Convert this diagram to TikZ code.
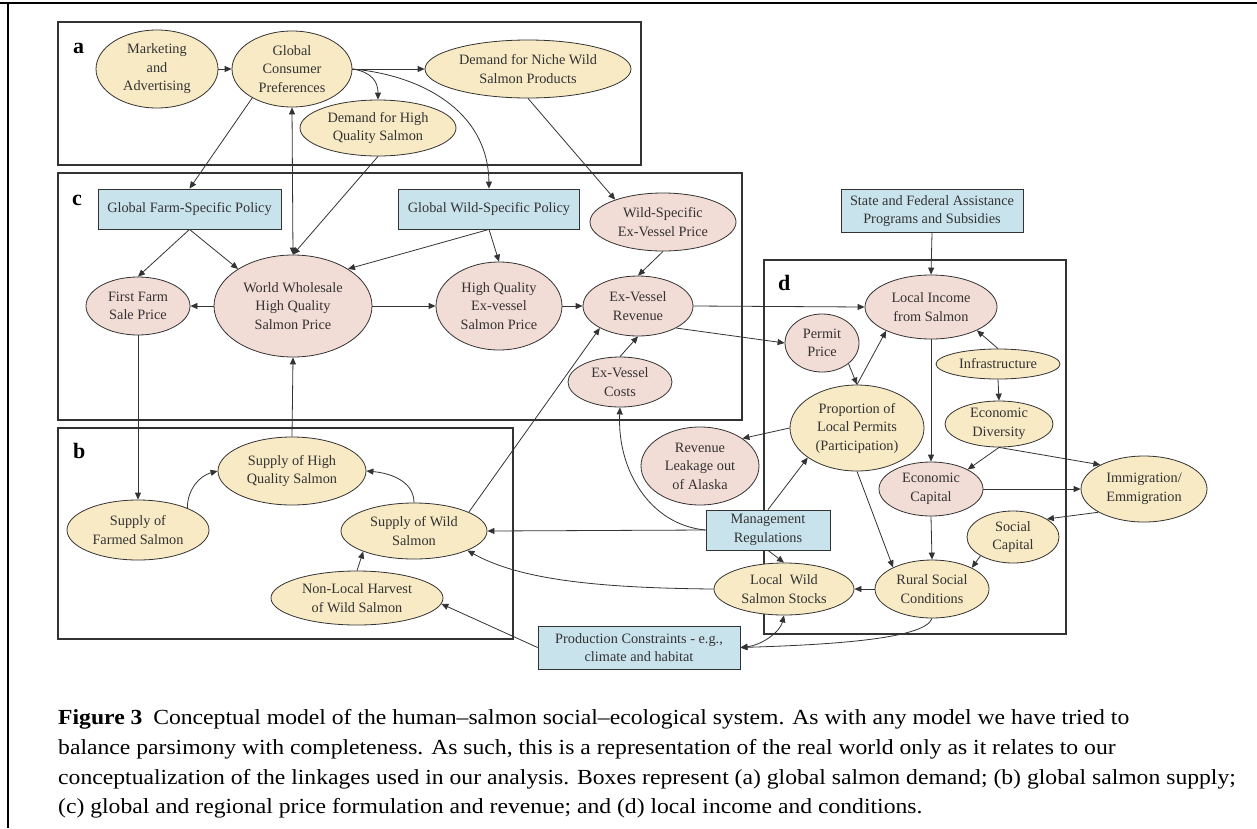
\documentclass[tikz,border=0pt]{standalone}
\usepackage{fontspec}
\setmainfont{Liberation Serif}
\newfontfamily\capfont[FakeStretch=1.10, Ligatures=TeX]{Liberation Serif}
\usetikzlibrary{shapes.geometric,arrows.meta}
\definecolor{beige}{HTML}{F8EAC4}
\definecolor{pinkf}{HTML}{F2DCD6}
\definecolor{bluef}{HTML}{C9E3EC}
\definecolor{ink}{HTML}{333333}
\begin{document}
\begin{tikzpicture}[x=1pt,y=-1pt,
  el/.style={ellipse, draw=ink, line width=0.8pt, inner sep=0pt, align=center,
    font=\fontsize{14.3}{18.5}\selectfont, text=ink},
  nb/.style={el, fill=beige},
  np/.style={el, fill=pinkf},
  bx/.style={rectangle, draw=ink, line width=0.8pt, fill=bluef, inner sep=0pt, align=center,
    font=\fontsize{14.3}{18.5}\selectfont, text=ink},
  arr/.style={draw=ink, line width=0.8pt, -{Triangle[length=7pt,width=6pt]}},
  arrtwo/.style={draw=ink, line width=0.8pt, {Triangle[length=7pt,width=6pt]}-{Triangle[length=7pt,width=6pt]}},
  panel/.style={draw=ink, line width=2.5pt},
  plabel/.style={anchor=base west, font=\fontsize{22}{22}\selectfont\bfseries, inner sep=0pt},
  captext/.style={anchor=base west, inner sep=0pt, font=\capfont\fontsize{21.5}{29}\selectfont}
]
\useasboundingbox (0,0) rectangle (1257,828);
\fill[white] (0,0) rectangle (1257,828);
% outer frame
\draw[line width=2pt, black] (0,3) -- (1257,3);
\draw[line width=2pt, black] (8,3) -- (8,828);
% panels
\draw[panel] (58,22) rectangle (641,165);
\draw[panel] (58,173) rectangle (742,420);
\draw[panel] (58,428) rectangle (513,639);
\draw[panel] (764,260) rectangle (1066,634);
\node[plabel] (la) at (73,53) {a};
\node[plabel] (lc) at (72,205) {c};
\node[plabel] (lb) at (73,458) {b};
\node[plabel] (ld) at (778,290) {d};
% group a
\node[nb, minimum width=122pt, minimum height=78pt] (mkt) at (157,69) {Marketing\\and\\Advertising};
\node[nb, minimum width=120pt, minimum height=76pt] (gcp) at (292,69) {Global\\Consumer\\Preferences};
\node[nb, minimum width=156pt, minimum height=56pt] (dhq) at (378,128) {Demand for High\\Quality Salmon};
\node[nb, minimum width=206pt, minimum height=58pt] (niche) at (528,69) {Demand for Niche Wild\\Salmon Products};
% group c
\node[bx, minimum width=183pt, minimum height=40pt] (fsp) at (189.5,209) {Global Farm-Specific Policy};
\node[bx, minimum width=181pt, minimum height=40pt] (wsp) at (489,209) {Global Wild-Specific Policy};
\node[np, minimum width=146pt, minimum height=58pt] (wsep) at (663,222) {Wild-Specific\\Ex-Vessel Price};
\node[np, minimum width=104pt, minimum height=58pt] (ffsp) at (138,306) {First Farm\\Sale Price};
\node[np, minimum width=158pt, minimum height=102pt] (ww) at (293,306) {World Wholesale\\High Quality\\Salmon Price};
\node[np, minimum width=126pt, minimum height=88pt] (hqex) at (499,306) {High Quality\\Ex-vessel\\Salmon Price};
\node[np, minimum width=110pt, minimum height=60pt] (rev) at (638,306) {Ex-Vessel\\Revenue};
\node[np, minimum width=104pt, minimum height=50pt] (cost) at (620,382) {Ex-Vessel\\Costs};
% group d
\node[bx, minimum width=182pt, minimum height=43pt] (sfa) at (932,211) {State and Federal Assistance\\Programs and Subsidies};
\node[np, minimum width=132pt, minimum height=64pt] (lis) at (931,307) {Local Income\\from Salmon};
\node[np, minimum width=74pt, minimum height=58pt] (pp) at (822,343) {Permit\\Price};
\node[nb, minimum width=124pt, minimum height=30pt] (inf) at (998,364) {Infrastructure};
\node[nb, minimum width=108pt, minimum height=46pt] (ed) at (999,424) {Economic\\Diversity};
\node[nb, minimum width=134pt, minimum height=86pt] (prop) at (857,428) {Proportion of\\Local Permits\\(Participation)};
\node[np, minimum width=118pt, minimum height=78pt] (leak) at (700,466) {Revenue\\Leakage out\\of Alaska};
\node[np, minimum width=104pt, minimum height=54pt] (ec) at (931,489) {Economic\\Capital};
\node[nb, minimum width=126pt, minimum height=66pt] (imm) at (1144,489) {Immigration/\\Emmigration};
\node[nb, minimum width=92pt, minimum height=52pt] (sc) at (1013,537) {Social\\Capital};
\node[nb, minimum width=114pt, minimum height=58pt] (rsc) at (932,589) {Rural Social\\Conditions};
\node[nb, minimum width=140pt, minimum height=52pt] (lwss) at (784,589) {Local\ \ Wild\\Salmon Stocks};
\node[bx, minimum width=124pt, minimum height=40pt] (mr) at (768,530) {Management\\Regulations};
\node[bx, minimum width=202pt, minimum height=43pt] (pc) at (639,647.5) {Production Constraints - e.g.,\\climate and habitat};
% group b
\node[nb, minimum width=148pt, minimum height=68pt] (shq) at (292,471) {Supply of High\\Quality Salmon};
\node[nb, minimum width=142pt, minimum height=60pt] (sf) at (138,530) {Supply of\\Farmed Salmon};
\node[nb, minimum width=146pt, minimum height=56pt] (sw) at (414,531) {Supply of Wild\\Salmon};
\node[nb, minimum width=172pt, minimum height=54pt] (nlh) at (357,598) {Non-Local Harvest\\of Wild Salmon};
% edges
\draw[arr] (mkt) -- (gcp);
\draw[arr] (gcp) -- (niche);
\draw[arr] (gcp.east) .. controls (372,72) and (378,82) .. (dhq.north);
\draw[arr] (gcp.east) .. controls (420,75) and (488,110) .. (wsp.north);
\draw[arr] (gcp.216) -- (fsp.north);
\draw[arrtwo] (gcp.south) -- (ww.north);
\draw[arr] (dhq.south) -- (ww.north);
\draw[arr] (niche.south) -- (wsep.155);
\draw[arr] (fsp.south) -- (ffsp.north);
\draw[arr] (fsp.south) -- (ww.146);
\draw[arr] (wsp.south) -- (ww.34);
\draw[arr] (wsp.south) -- (hqex.north);
\draw[arr] (ww) -- (ffsp);
\draw[arr] (ww) -- (hqex);
\draw[arr] (hqex) -- (rev);
\draw[arr] (wsep.south) -- (rev.north);
\draw[arr] (cost.north) -- (rev.south);
\draw[arr] (sw.19) -- (rev.210);
\draw[arr] (rev.east) -- (lis.west);
\draw[arr] (rev.-30) -- (pp.west);
\draw[arr] (ffsp.south) -- (sf.north);
\draw[arr] (sf.24) to[out=90,in=195] (shq.west);
\draw[arr] (sw.north) to[out=90,in=-5] (shq.east);
\draw[arr] (shq.north) -- (ww.south);
\draw[arr] (nlh.north) -- (sw.202);
\draw[arr] (mr.west) -- (sw.east);
\draw[arr] (mr.west) .. controls (650,525) and (617,470) .. (cost.south);
\draw[arr] (mr.north) -- (prop.211);
\draw[arr] (mr.south) -- (lwss.north);
\draw[arr] (lwss.west) .. controls (600,588) and (520,580) .. (sw.-20);
\draw[arr] (pc.west) -- (nlh.-4);
\draw[arr] (rsc.south) .. controls (925,640) and (820,645) .. (pc.east);
\draw[arrtwo] (pc.east) .. controls (762,645) and (780,632) .. (lwss.south);
\draw[arr] (rsc.west) -- (lwss.east);
\draw[arr] (prop.south) -- (rsc.151);
\draw[arr] (ec.south) -- (rsc.north);
\draw[arr] (sc.210) -- (rsc.28);
\draw[arr] (imm.207) -- (sc.28);
\draw[arr] (ec.east) -- (imm.west);
\draw[arr] (ed.south) -- (imm.151);
\draw[arr] (ed.south) -- (ec.28);
\draw[arr] (lis.south) -- (ec.north);
\draw[arr] (inf.north) -- (lis.-27);
\draw[arr] (inf.south) -- (ed.north);
\draw[arr] (pp.-38) -- (prop.north);
\draw[arr] (prop.north) -- (lis.208);
\draw[arr] (prop.west) -- (leak.33);
\draw[arr] (sfa.south) -- (lis.north);
% caption
\node[captext] (cap1) at (58,724) {\textbf{Figure 3}\enspace Conceptual model of the human--salmon social--ecological system. As with any model we have tried to};
\node[captext] (cap2) at (58,754) {balance parsimony with completeness. As such, this is a representation of the real world only as it relates to our};
\node[captext] (cap3) at (58,784) {conceptualization of the linkages used in our analysis. Boxes represent (a) global salmon demand; (b) global salmon supply;};
\node[captext] (cap4) at (58,813) {(c) global and regional price formulation and revenue; and (d) local income and conditions.};
\end{tikzpicture}
\end{document}
